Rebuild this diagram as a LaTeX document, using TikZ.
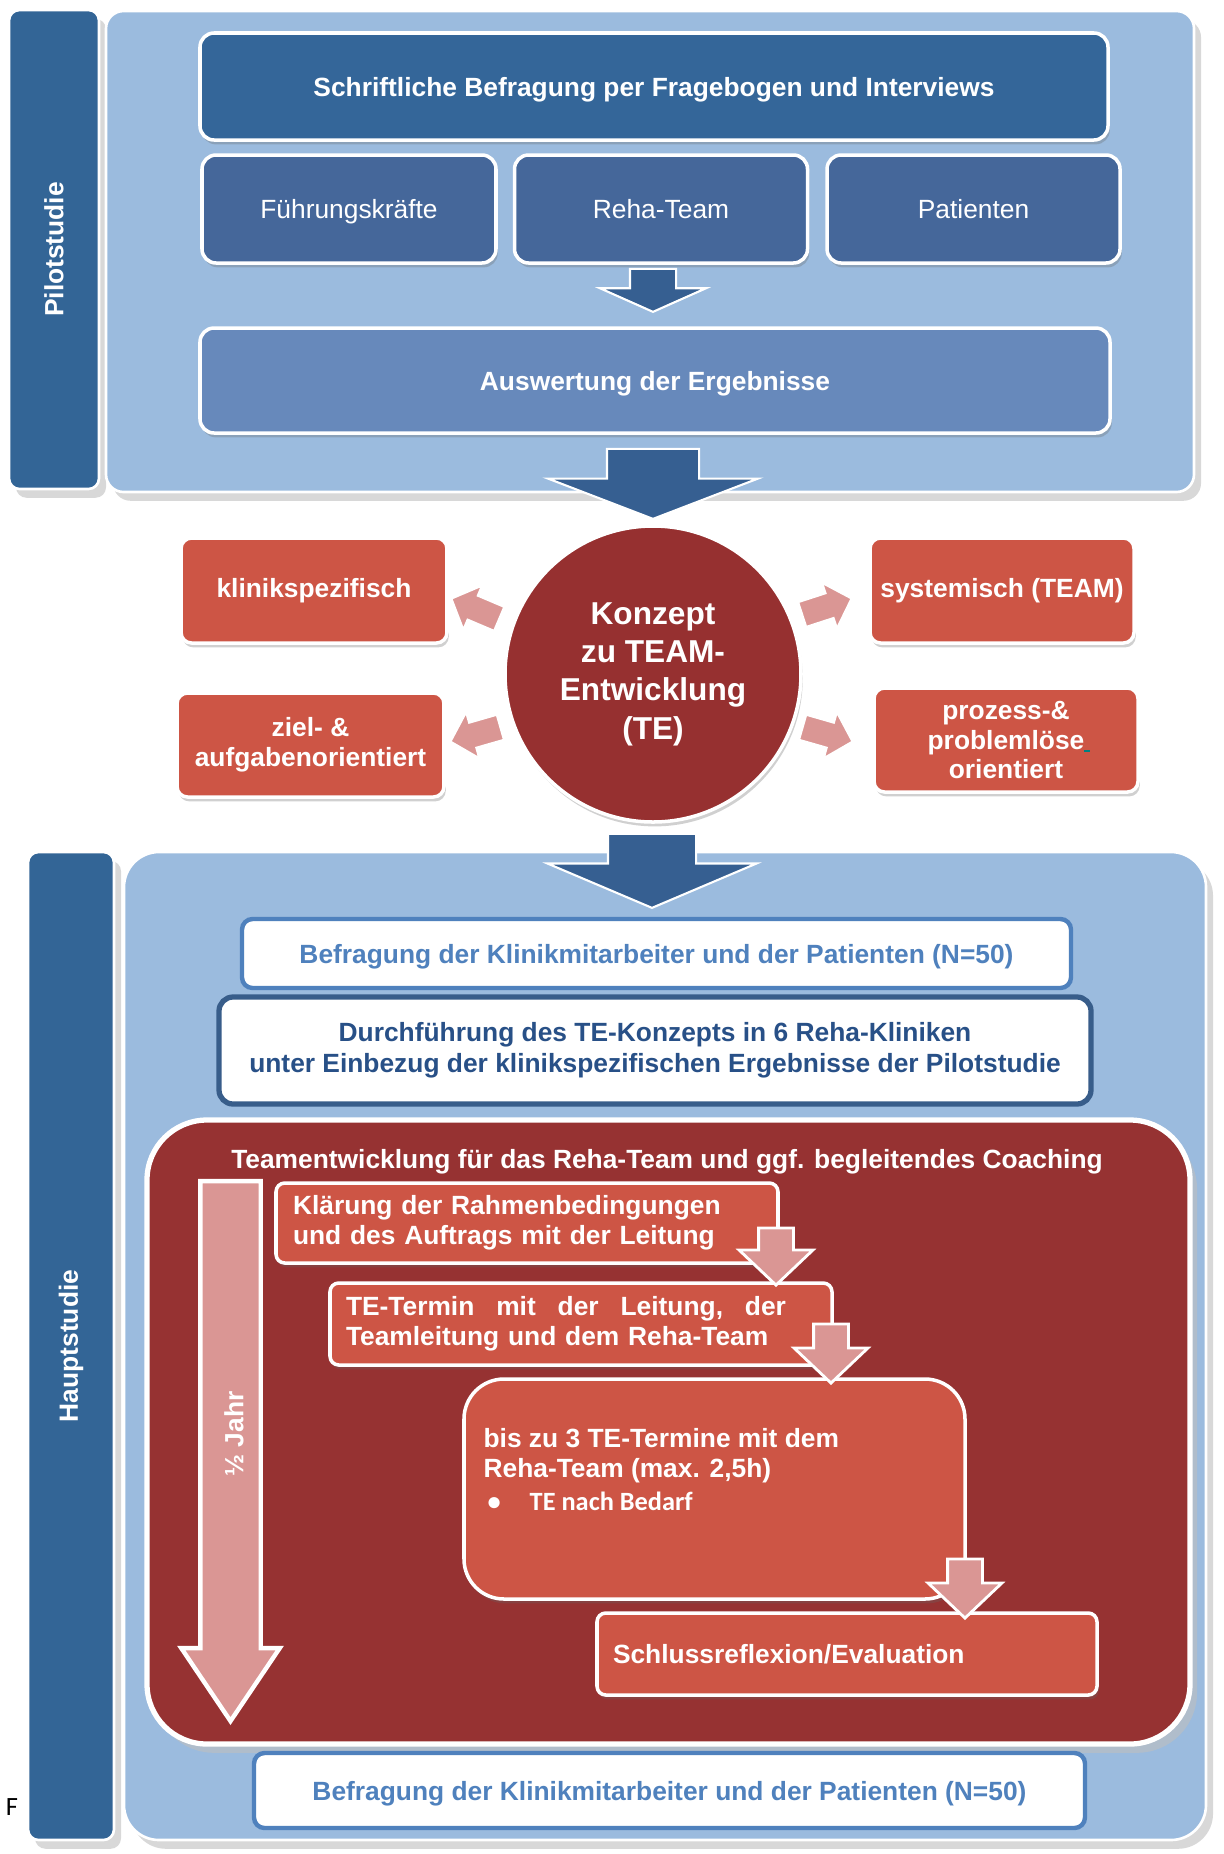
\documentclass[tikz,border=0pt]{standalone}
\usepackage{fontspec}
\setmainfont{Liberation Sans}
\newfontfamily\calfont{Carlito}
\usetikzlibrary{positioning,calc,shapes.arrows,shadows}

\definecolor{sidebar}{RGB}{51,101,150}
\definecolor{panelblue}{RGB}{155,187,222}
\definecolor{topblue}{RGB}{52,102,153}
\definecolor{groupblue}{RGB}{69,103,154}
\definecolor{lightblue}{RGB}{103,137,187}
\definecolor{arrowblue}{RGB}{54,95,145}
\definecolor{conceptred}{RGB}{150,48,48}
\definecolor{boxred}{RGB}{205,85,69}
\definecolor{arrowpink}{RGB}{218,150,148}
\definecolor{panelred}{RGB}{150,50,50}
\definecolor{surveyblue}{RGB}{79,129,189}
\definecolor{darkframe}{RGB}{56,93,138}
\definecolor{darktext}{RGB}{40,80,135}
\definecolor{hyphenmark}{RGB}{0,128,128}

\newcommand{\stdsize}{\fontsize{15}{17.5}\selectfont}

\begin{document}
\begin{tikzpicture}[
  font=\stdsize\bfseries,
  outershadow/.style={drop shadow={fill=black!25, opacity=0.6, shadow xshift=4pt, shadow yshift=-5pt}},
  boxshadow/.style={drop shadow={fill=black!60, opacity=0.3, shadow xshift=1pt, shadow yshift=-2.5pt}},
  side/.style={fill=sidebar, draw=white, line width=1.5pt, rounded corners=6pt, outershadow},
  sidetext/.style={rotate=90, text=white},
  panel/.style={fill=panelblue, draw=white, line width=1.5pt, outershadow},
  bluebox/.style={draw=white, line width=2pt, rounded corners=8pt, text=white, text depth=0pt, boxshadow},
  groupbox/.style={bluebox, fill=groupblue, font=\stdsize, minimum width=5.86cm, minimum height=2.16cm},
  redbox/.style={fill=boxred, draw=white, line width=2pt, rounded corners=6pt, text=white, align=center,
    font=\fontsize{15}{17}\selectfont\bfseries, minimum width=5.3cm, minimum height=2.1cm, boxshadow},
  survey/.style={fill=white, draw=surveyblue, line width=2.5pt, rounded corners=6pt, text=surveyblue, text depth=0pt},
  stepbox/.style={fill=boxred, draw=white, line width=2pt, rounded corners=5pt, text=white, align=left,
    font=\fontsize{15}{17}\selectfont\bfseries, boxshadow},
  blockarrow/.style={single arrow, draw=white, line width=1.2pt, inner xsep=0pt, anchor=tip},
  diagarrow/.style={blockarrow, fill=arrowpink, minimum height=1.04cm, inner ysep=0.24cm,
    single arrow head extend=0.22cm, single arrow tip angle=92},
  steparrow/.style={blockarrow, fill=arrowpink, rotate=-90, line width=1.6pt, inner ysep=0.32cm,
    single arrow head extend=0.39cm, single arrow tip angle=93}
]
\useasboundingbox (0,0) rectangle (24.48,-37.08);
\fill[white] (0,0) rectangle (24.48,-37.08);

\node[side, minimum width=1.8cm, minimum height=9.58cm] (pside) at (1.08,-4.99) {};
\node[sidetext] (plabel) at (pside) {Pilotstudie};
\node[panel, rounded corners=10pt, minimum width=21.76cm, minimum height=9.62cm] (pilot) at (13.0,-5.03) {};

\node[bluebox, fill=topblue, minimum width=18.16cm, minimum height=2.14cm] (frage) at (13.08,-1.73)
  {Schriftliche Befragung per Fragebogen und Interviews};
\node[groupbox, minimum width=5.88cm] (fk) at (6.98,-4.18) {Führungskräfte};
\node[groupbox, right=0.3cm of fk] (rt) {Reha-Team};
\node[groupbox, right=0.32cm of rt] (pat) {Patienten};
\node[bluebox, fill=lightblue, minimum width=18.2cm, minimum height=2.1cm] (ausw) at (13.1,-7.61)
  {Auswertung der Ergebnisse};
\node[blockarrow, fill=arrowblue, rotate=-90, minimum height=0.86cm, inner ysep=0.44cm,
  single arrow head extend=0.6cm, single arrow tip angle=132] (a1) at (13.06,-6.26) {};

\node[side, minimum width=1.72cm, minimum height=19.76cm] (hside) at (1.42,-26.92) {};
\node[sidetext] (hlabel) at (hside) {Hauptstudie};
\node[panel, rounded corners=0.7cm, minimum width=21.64cm, minimum height=19.76cm] (haupt) at (13.3,-26.92) {};

\node[blockarrow, fill=arrowblue, rotate=-90, minimum height=1.4cm, inner ysep=0.9cm,
  single arrow head extend=1.18cm, single arrow tip angle=138] (a2) at (13.06,-10.4) {};

\node[circle, fill=conceptred, draw=white, line width=2pt, minimum size=5.92cm, text=white, align=center,
  font=\fontsize{18}{21.8}\selectfont\bfseries, boxshadow] (konzept) at (13.06,-13.48)
  {Konzept\\zu TEAM-\\Entwicklung\\(TE)};
\node[redbox, minimum width=5.32cm] (kli) at (6.28,-11.81) {klinikspezifisch};
\node[redbox, minimum width=5.34cm, minimum height=2.08cm] (zie) at (6.21,-14.9) {ziel- \&\\aufgabenorientiert};
\node[redbox, minimum width=5.28cm] (sys) at (20.04,-11.81) {systemisch (TEAM)};
\node[redbox, minimum width=5.28cm, minimum height=2.08cm] (pro) at (20.12,-14.8)
  {prozess-\&\\problemlöse\makebox[0pt][l]{\textcolor{hyphenmark}{\rule[-1.5pt]{3pt}{1.2pt}}}\\orientiert};
\node[diagarrow, rotate=157] (d1) at (9.0,-11.96) {};
\node[diagarrow, rotate=196] (d2) at (8.98,-14.84) {};
\node[diagarrow, rotate=18] (d3) at (17.06,-11.96) {};
\node[diagarrow, rotate=-16] (d4) at (17.08,-14.84) {};

\node[blockarrow, fill=arrowblue, rotate=-90, minimum height=1.48cm, inner ysep=0.86cm,
  single arrow head extend=1.21cm, single arrow tip angle=134] (a3) at (13.04,-18.18) {};

\node[survey, minimum width=16.58cm, minimum height=1.38cm] (bef1) at (13.13,-19.07)
  {Befragung der Klinikmitarbeiter und der Patienten (N=50)};
\node[fill=white, draw=darkframe, line width=3pt, rounded corners=8pt, text=darktext, align=center,
  font=\fontsize{15}{17.6}\selectfont\bfseries, minimum width=17.44cm, minimum height=2.14cm] (durch) at (13.1,-21.01)
  {Durchführung des TE-Konzepts in 6 Reha-Kliniken\\unter Einbezug der klinikspezifischen Ergebnisse der Pilotstudie};

\node[fill=panelred, draw=white, line width=3pt, rounded corners=1.2cm, minimum width=20.86cm,
  minimum height=12.48cm, outershadow] (team) at (13.37,-28.64) {};
\node[text=white] (ttl) at (13.34,-23.24) {Teamentwicklung für das Reha-Team und ggf. begleitendes Coaching};

\node[blockarrow, fill=arrowpink, rotate=-90, line width=2.5pt, minimum height=10.8cm, inner ysep=0.56cm,
  single arrow head extend=0.38cm, single arrow tip angle=68] (jahr) at (4.61,-34.5) {};
\node[sidetext] (jlabel) at (4.68,-28.68) {½ Jahr};

\node[stepbox, text width=9.36cm, inner xsep=0.34cm, minimum height=1.6cm] (st1) at (10.54,-24.46)
  {Klärung der Rahmenbedingungen\\und des Auftrags mit der Leitung};
\node[stepbox, text width=9.4cm, inner xsep=0.32cm, minimum height=1.64cm] (st2) at (11.62,-26.48)
  {\makebox[8.8cm][l]{TE-Termin\hfill mit\hfill der\hfill Leitung,\hfill der}\\Teamleitung und dem Reha-Team};
\node[stepbox, rounded corners=0.8cm, minimum width=10.02cm, minimum height=4.4cm] (st3) at (14.29,-29.78) {};
\node[text=white, align=left, anchor=north west, inner sep=0pt, font=\fontsize{15}{17}\selectfont\bfseries] (st3txt)
  at ($(st3.north west)+(0.42,-1.02)$)
  {bis zu 3 TE-Termine mit dem\\Reha-Team (max. 2,5h)\\[2pt]{\calfont\hspace*{0.08cm}\textbullet\hspace{0.58cm}TE nach Bedarf}};
\node[stepbox, text width=9.36cm, inner xsep=0.32cm, minimum height=1.64cm] (st4) at (16.94,-33.08)
  {Schlussreflexion/Evaluation};
\node[steparrow, minimum height=1.14cm] (s1) at (15.52,-25.74) {};
\node[steparrow, minimum height=1.18cm] (s2) at (16.62,-27.7) {};
\node[steparrow, minimum height=1.18cm] (s3) at (19.3,-32.4) {};

\node[survey, minimum width=16.62cm, minimum height=1.5cm] (bef2) at (13.39,-35.81)
  {Befragung der Klinikmitarbeiter und der Patienten (N=50)};
\node[font=\calfont\fontsize{15}{17}\selectfont, inner sep=0pt] (fnote) at (0.24,-36.14) {F};
\end{tikzpicture}
\end{document}
